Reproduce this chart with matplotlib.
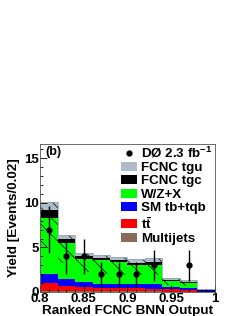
import numpy as np
import matplotlib
matplotlib.use("Agg")
import matplotlib.pyplot as plt
from matplotlib.ticker import MultipleLocator
from matplotlib.lines import Line2D

plt.rcParams['font.family'] = ['Liberation Sans', 'DejaVu Sans']
plt.rcParams['font.weight'] = 'bold'
plt.rcParams['mathtext.fontset'] = 'custom'
plt.rcParams['mathtext.rm'] = 'Liberation Sans:bold'
plt.rcParams['mathtext.bf'] = 'Liberation Sans:bold'
plt.rcParams['mathtext.it'] = 'Liberation Sans:bold'
plt.rcParams['hatch.linewidth'] = 0.5

# bins of the ranked BNN output
edges = np.round(np.arange(0.80, 1.0001, 0.02), 2)
centers = (edges[:-1] + edges[1:]) / 2

# stacked backgrounds, bottom to top
multijets = [0.15, 0.10, 0.10, 0.08, 0.08, 0.08, 0.07, 0.05, 0.05, 0.01]
ttbar     = [0.82, 0.57, 0.50, 0.37, 0.34, 0.32, 0.27, 0.25, 0.20, 0.04]
sm_tb     = [1.03, 0.75, 0.56, 0.41, 0.44, 0.50, 0.52, 0.22, 0.20, 0.05]
wzx       = [6.35, 4.08, 2.54, 2.69, 2.54, 2.17, 2.14, 0.71, 0.60, 0.05]
fcnc_tgc  = [0.90, 0.40, 0.30, 0.30, 0.20, 0.23, 0.40, 0.17, 0.12, 0.05]
fcnc_tgu  = [0.85, 0.50, 0.40, 0.25, 0.30, 0.45, 0.45, 0.20, 0.18, 0.10]

data = np.array([7, 4, 4, 2, 2, 2, 3, 0, 3, 0])

comps = [
    (multijets, '#8b6a5a', 'Multijets'),
    (ttbar, '#ff0000', r'$\mathbf{t\bar{t}}$'),
    (sm_tb, '#0000ff', 'SM tb+tqb'),
    (wzx, '#00ff00', 'W/Z+X'),
    (fcnc_tgc, '#000000', 'FCNC tgc'),
    (fcnc_tgu, '#adbcc8', 'FCNC tgu'),
]

fig = plt.figure(figsize=(2.44, 3.16), dpi=100)
ax = fig.add_axes([0.164, 0.076, 0.717, 0.468])

bottom = np.zeros(len(centers))
handles = {}
for vals, col, lab in comps:
    vals = np.array(vals)
    h = ax.bar(edges[:-1], vals, width=0.02, bottom=bottom, align='edge',
               color=col, linewidth=0, label=lab)
    handles[lab] = h
    bottom = bottom + vals

total = bottom
# hatched systematic band
ax.bar(edges[:-1], total * 0.5, width=0.02, bottom=total * 0.5, align='edge',
       fill=False, hatch='\\\\', edgecolor='black', linewidth=0)
# bin outline of total
ax.stairs(total, edges, color='#9aa8b4', linewidth=0.6)

mask = data > 0
ax.errorbar(centers[mask], data[mask], yerr=np.sqrt(data[mask]), fmt='o',
            color='black', markersize=3.5, elinewidth=1.0, capsize=0)
dh = Line2D([], [], marker='o', color='black', linestyle='none', markersize=3.5)

ax.set_xlim(0.8, 1.0)
ax.set_ylim(0, 16.6)
ax.xaxis.set_major_locator(MultipleLocator(0.05))
ax.xaxis.set_minor_locator(MultipleLocator(0.01))
ax.yaxis.set_major_locator(MultipleLocator(5))
ax.yaxis.set_minor_locator(MultipleLocator(1))
ax.xaxis.set_major_formatter(matplotlib.ticker.FuncFormatter(
    lambda v, p: ('%g' % round(v, 2))))
ax.tick_params(which='both', direction='in', labelsize=9.5, pad=1)
ax.tick_params(which='major', length=5, width=0.6)
ax.tick_params(which='minor', length=2.5, width=0.6)
for s in ax.spines.values():
    s.set_linewidth(0.6)
    s.set_color('#555555')

ax.set_xlabel('Ranked FCNC BNN Output', fontsize=9.7, fontweight='bold', labelpad=0)
ax.set_ylabel('Yield [Events/0.02]', fontsize=9.7, fontweight='bold', labelpad=3)
ax.text(0.03, 0.985, '(b)', transform=ax.transAxes, fontsize=9,
        fontweight='bold', va='top', ha='left')

order = ['FCNC tgu', 'FCNC tgc', 'W/Z+X', 'SM tb+tqb', r'$\mathbf{t\bar{t}}$', 'Multijets']
hl = [dh] + [handles[k] for k in order]
ll = [r'DØ 2.3 fb$^{\mathbf{-1}}$'] + order
ax.legend(hl, ll, loc='upper right', bbox_to_anchor=(1.0, 1.01), frameon=False,
          fontsize=9.6, handlelength=1.2, handleheight=0.65, labelspacing=0.1,
          handletextpad=0.3, borderpad=0.1, borderaxespad=0.1)

fig.savefig('out.png', dpi=100)
